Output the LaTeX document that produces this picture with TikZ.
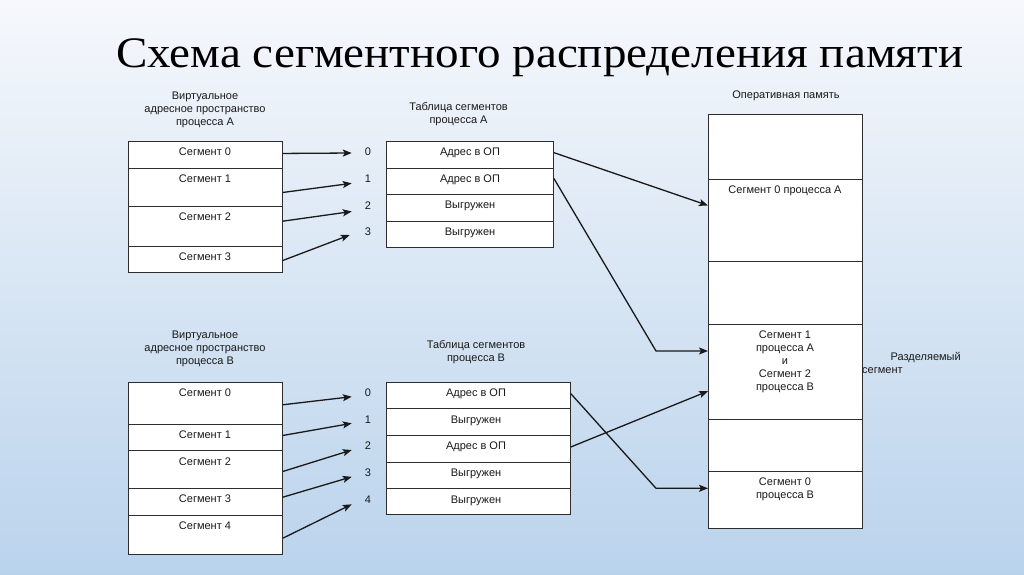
\documentclass[tikz,border=0pt]{standalone}
\usepackage{fontspec}
\setmainfont{Liberation Sans}
\newfontfamily\titlefont{Liberation Serif}
\usetikzlibrary{arrows.meta}
\definecolor{bgtop}{RGB}{246,248,252}
\definecolor{bgmid}{RGB}{203,222,241}
\definecolor{bgbot}{RGB}{186,211,236}
\definecolor{edge}{RGB}{45,45,45}
\begin{document}
\begin{tikzpicture}[x=1pt,y=-1pt,
  cell/.style={draw=edge, fill=white, line width=0.9pt, inner sep=0pt, anchor=north west},
  txt/.style={font=\fontsize{11}{13}\selectfont, inner sep=0pt, anchor=base, text=black!90},
  hdr/.style={font=\fontsize{11}{13}\selectfont, align=center, inner sep=0pt, anchor=north, text=black!90},
  num/.style={font=\fontsize{11}{13}\selectfont, inner sep=0pt, anchor=center, text=black!90},
  arr/.style={draw=black!90, line width=1.3pt, -{Stealth[length=9pt,width=7pt,inset=2pt]}},
]
% background
\shade[top color=bgtop, middle color=bgmid, bottom color=bgbot] (0,0) rectangle (1024,574);
\useasboundingbox (0,0) rectangle (1024,574);

% title
\node[font=\titlefont\fontsize{43.5}{46}\selectfont, inner sep=0pt, anchor=base west] (title) at (116,67) {\scalebox{1.082}[1]{Схема сегментного распределения памяти}};

% headers
\node[hdr] (hVA) at (205,91.5) {Виртуальное\\адресное пространство\\процесса А};
\node[hdr] (hTA) at (458.5,102.3) {Таблица сегментов\\процесса А};
\node[hdr] (hM) at (786,91) {Оперативная память};
\node[hdr] (hVB) at (205,331) {Виртуальное\\адресное пространство\\процесса В};
\node[hdr] (hTB) at (476,340.6) {Таблица сегментов\\процесса В};

% virtual space A
\node[cell, minimum width=154, minimum height=27] (va0) at (128,141) {};
\node[cell, minimum width=154, minimum height=38] (va1) at (128,168) {};
\node[cell, minimum width=154, minimum height=40] (va2) at (128,206) {};
\node[cell, minimum width=154, minimum height=26] (va3) at (128,246) {};
\node[txt] (tva0) at (205,155.5) {Сегмент 0};
\node[txt] (tva1) at (205,182.5) {Сегмент 1};
\node[txt] (tva2) at (205,220.5) {Сегмент 2};
\node[txt] (tva3) at (205,260.5) {Сегмент 3};

% segment table A
\node[cell, minimum width=167, minimum height=27] (ta0) at (386,141) {};
\node[cell, minimum width=167, minimum height=26] (ta1) at (386,168) {};
\node[cell, minimum width=167, minimum height=27] (ta2) at (386,194) {};
\node[cell, minimum width=167, minimum height=26] (ta3) at (386,221) {};
\node[txt] (tta0) at (470,155.5) {Адрес в ОП};
\node[txt] (tta1) at (470,182.5) {Адрес в ОП};
\node[txt] (tta2) at (470,208.5) {Выгружен};
\node[txt] (tta3) at (470,235.5) {Выгружен};
\node[num] (na0) at (368,152) {0};
\node[num] (na1) at (368,179) {1};
\node[num] (na2) at (368,205.5) {2};
\node[num] (na3) at (368,232) {3};

% virtual space B
\node[cell, minimum width=154, minimum height=42] (vb0) at (128,382) {};
\node[cell, minimum width=154, minimum height=26] (vb1) at (128,424) {};
\node[cell, minimum width=154, minimum height=38] (vb2) at (128,450) {};
\node[cell, minimum width=154, minimum height=27] (vb3) at (128,488) {};
\node[cell, minimum width=154, minimum height=39] (vb4) at (128,515) {};
\node[txt] (tvb0) at (205,396.5) {Сегмент 0};
\node[txt] (tvb1) at (205,438.5) {Сегмент 1};
\node[txt] (tvb2) at (205,465) {Сегмент 2};
\node[txt] (tvb3) at (205,502.8) {Сегмент 3};
\node[txt] (tvb4) at (205,529.5) {Сегмент 4};

% segment table B
\node[cell, minimum width=184, minimum height=26] (tb0) at (386,382) {};
\node[cell, minimum width=184, minimum height=27] (tb1) at (386,408) {};
\node[cell, minimum width=184, minimum height=27] (tb2) at (386,435) {};
\node[cell, minimum width=184, minimum height=26] (tb3) at (386,462) {};
\node[cell, minimum width=184, minimum height=26] (tb4) at (386,488) {};
\node[txt] (ttb0) at (476,396.3) {Адрес в ОП};
\node[txt] (ttb1) at (476,423) {Выгружен};
\node[txt] (ttb2) at (476,449.8) {Адрес в ОП};
\node[txt] (ttb3) at (476,476.5) {Выгружен};
\node[txt] (ttb4) at (476,503) {Выгружен};
\node[num] (nb0) at (368,392.5) {0};
\node[num] (nb1) at (368,419.5) {1};
\node[num] (nb2) at (368,446) {2};
\node[num] (nb3) at (368,472.8) {3};
\node[num] (nb4) at (368,499.3) {4};

% main memory
\node[cell, minimum width=154, minimum height=65] (m0) at (708,114) {};
\node[cell, minimum width=154, minimum height=82] (m1) at (708,179) {};
\node[cell, minimum width=154, minimum height=63] (m2) at (708,261) {};
\node[cell, minimum width=154, minimum height=95] (m3) at (708,324) {};
\node[cell, minimum width=154, minimum height=52] (m4) at (708,419) {};
\node[cell, minimum width=154, minimum height=57] (m5) at (708,471) {};
\node[txt] (tm1) at (785,193.5) {Сегмент 0 процесса А};
\node[hdr] (tm3) at (785,331) {Сегмент 1\\процесса А\\и\\Сегмент 2\\процесса В};
\node[hdr] (tm5) at (785,477.5) {Сегмент 0\\процесса В};
\node[font=\fontsize{11}{13}\selectfont, align=left, inner sep=0pt, anchor=north west, text=black!90] (shared) at (862,352.6) {\hspace*{28.5pt}Разделяемый\\сегмент};

% arrows: virtual A -> table A
\draw[arr] ([yshift=1.5pt]va0.east) -- ([xshift=-13pt,yshift=-1pt]na0.west);
\draw[arr] ([yshift=-5pt]va1.east) -- ([xshift=-13pt,yshift=-4.3pt]na1.west);
\draw[arr] ([yshift=5.3pt]va2.east) -- ([xshift=-13pt,yshift=-6pt]na2.west);
\draw[arr] ([yshift=-1pt]va3.east) -- ([xshift=-15pt,yshift=-3pt]na3.west);
% arrows: virtual B -> table B
\draw[arr] ([yshift=-1.3pt]vb0.east) -- ([xshift=-13pt,yshift=-4.2pt]nb0.west);
\draw[arr] ([yshift=2pt]vb1.east) -- ([xshift=-13pt,yshift=-3.8pt]nb1.west);
\draw[arr] ([yshift=-2pt]vb2.east) -- ([xshift=-13pt,yshift=-4pt]nb2.west);
\draw[arr] ([yshift=4.8pt]vb3.east) -- ([xshift=-13pt,yshift=-4pt]nb3.west);
\draw[arr] ([yshift=-3.2pt]vb4.east) -- ([xshift=-13pt,yshift=-5pt]nb4.west);

% arrows: tables -> memory
\coordinate (bendA) at (656,351);
\coordinate (bendB) at (656,488.3);
\draw[arr] ([yshift=2.3pt]ta0.east) -- ([yshift=15pt]m1.west);
\draw[arr] ([yshift=3pt]ta1.east) -- (bendA) -- (bendA -| m3.west);
\draw[arr] ([yshift=1.7pt]tb0.east) -- (bendB) -- (bendB -| m5.west);
\draw[arr] ([yshift=2pt]tb2.east) -- ([yshift=-19.2pt]m3.west);
\end{tikzpicture}
\end{document}
